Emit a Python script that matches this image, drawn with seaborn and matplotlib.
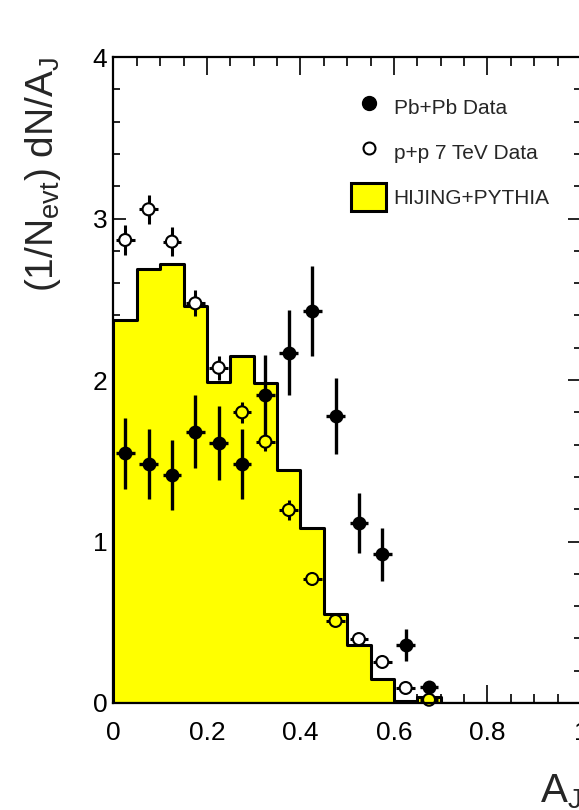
import matplotlib
matplotlib.use("Agg")
import matplotlib.pyplot as plt
import seaborn as sns
from matplotlib.lines import Line2D
from matplotlib.patches import Patch
from matplotlib.ticker import MultipleLocator, FuncFormatter

# Dijet asymmetry A_J distributions
bin_edges = [0.00, 0.05, 0.10, 0.15, 0.20, 0.25, 0.30, 0.35, 0.40, 0.45, 0.50,
             0.55, 0.60, 0.65, 0.70, 0.75, 0.80, 0.85, 0.90, 0.95, 1.00]
bin_centers = [0.025, 0.075, 0.125, 0.175, 0.225, 0.275, 0.325, 0.375, 0.425, 0.475,
               0.525, 0.575, 0.625, 0.675, 0.725, 0.775, 0.825, 0.875, 0.925, 0.975]
hijing_pythia = [2.37, 2.69, 2.72, 2.46, 1.99, 2.15, 1.98, 1.44, 1.085, 0.55,
                 0.36, 0.147, 0.015, 0.04, 0.0, 0.0, 0.0, 0.0, 0.0, 0.0]

aj_points = [0.025, 0.075, 0.125, 0.175, 0.225, 0.275, 0.325, 0.375, 0.425, 0.475,
             0.525, 0.575, 0.625, 0.675]
pbpb = [1.546, 1.478, 1.41, 1.68, 1.61, 1.478, 1.907, 2.17, 2.43, 1.777,
        1.117, 0.92, 0.36, 0.099]
pbpb_err = [0.22, 0.217, 0.217, 0.227, 0.23, 0.217, 0.248, 0.262, 0.279, 0.233,
            0.186, 0.165, 0.10, 0.03]
pp = [2.867, 3.057, 2.857, 2.475, 2.076, 1.80, 1.618, 1.195, 0.768, 0.508,
      0.396, 0.254, 0.093, 0.02]
pp_err = [0.09, 0.09, 0.09, 0.08, 0.075, 0.066, 0.058, 0.06, 0.04, 0.03,
          0.025, 0.02, 0.015, 0.01]
x_half_width = 0.02

x_ticks = [0.0, 0.2, 0.4, 0.6, 0.8, 1.0]
y_ticks = [0, 1, 2, 3, 4]

YELLOW = "#ffff00"

sns.set_theme(style="ticks")
plt.rcParams["font.family"] = ["Liberation Sans", "DejaVu Sans"]
plt.rcParams["mathtext.default"] = "regular"

fig = plt.figure(figsize=(5.79, 8.10), dpi=100)
ax = fig.add_axes([0.196, 0.1321, 0.8074, 0.7975])

# Simulation histogram
sns.histplot(x=bin_centers, weights=hijing_pythia, bins=bin_edges, element="step",
             fill=True, facecolor=YELLOW, edgecolor="black", linewidth=2.2,
             alpha=1, ax=ax, zorder=1)

# Error bars
ax.errorbar(aj_points, pp, yerr=pp_err, xerr=x_half_width, fmt="none",
            ecolor="black", elinewidth=2.2, capsize=0, zorder=3)
ax.errorbar(aj_points, pbpb, yerr=pbpb_err, xerr=x_half_width, fmt="none",
            ecolor="black", elinewidth=2.4, capsize=0, zorder=3)

# Hollow markers take the colour of whatever lies behind them
hist_at_point = [hijing_pythia[bin_centers.index(x)] for x in aj_points]
pp_faces = ["white" if y > h else YELLOW for y, h in zip(pp, hist_at_point)]

sns.scatterplot(x=aj_points, y=pp, marker="o", s=74, facecolor=pp_faces,
                edgecolor="black", linewidth=1.5, ax=ax, zorder=4, clip_on=False)
sns.scatterplot(x=aj_points, y=pbpb, marker="o", s=100, color="black",
                linewidth=0, ax=ax, zorder=5)

ax.set_xlim(0, 1)
ax.set_ylim(0, 4)

ax.xaxis.set_minor_locator(MultipleLocator(0.05))
ax.yaxis.set_minor_locator(MultipleLocator(0.2))
ax.set_xticks(x_ticks)
ax.set_yticks(y_ticks)
ax.xaxis.set_major_formatter(FuncFormatter(lambda v, p: f"{v:g}"))
ax.yaxis.set_major_formatter(FuncFormatter(lambda v, p: f"{v:g}"))

ax.tick_params(which="both", direction="in", top=True, right=True,
               width=1.2, color="black", labelcolor="black")
ax.tick_params(axis="x", which="major", length=13, labelsize=19, pad=13)
ax.tick_params(axis="x", which="minor", length=6.5)
ax.tick_params(axis="y", which="major", length=9.5, labelsize=19, pad=4.5)
ax.tick_params(axis="y", which="minor", length=5)

for sp in ax.spines.values():
    sp.set_linewidth(1.6)
    sp.set_color("black")
    sp.set_zorder(6)

ax.set_xlabel(r"A$_{J}$", fontsize=29, loc="right")
ax.xaxis.set_label_coords(1.0, -0.108)
ax.set_ylabel(r"(1/N$_{evt}$) dN/A$_{J}$", fontsize=28, loc="top")
ax.yaxis.set_label_coords(-0.108, 1.0)

handles = [
    Line2D([], [], marker="o", ls="none", color="black", markersize=10),
    Line2D([], [], marker="o", ls="none", markerfacecolor="none",
           markeredgecolor="black", markeredgewidth=1.5, markersize=8.6),
    Patch(facecolor=YELLOW, edgecolor="black", linewidth=2.2),
]
labels = ["Pb+Pb Data", "p+p 7 TeV Data", "HIJING+PYTHIA"]
ax.legend(handles, labels, loc="upper left",
          bbox_to_anchor=(351 / 579, 1 - 92.5 / 810), bbox_transform=fig.transFigure,
          frameon=False, fontsize=15, handlelength=1.7, handleheight=1.75,
          handletextpad=0.34, labelspacing=0.78, borderpad=0, borderaxespad=0)

fig.savefig("out.png", dpi=100)
